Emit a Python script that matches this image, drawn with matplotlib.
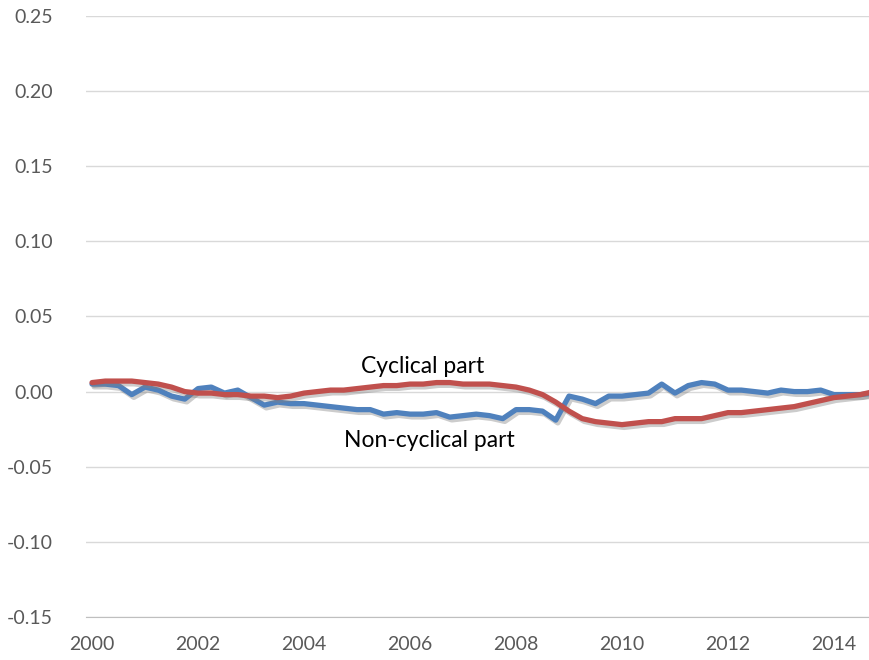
import numpy as np
import matplotlib
matplotlib.use("Agg")
import matplotlib.pyplot as plt
import matplotlib.patheffects as pe

# quarterly data, 2000Q1 .. 2014Q4
years = np.arange(2000, 2015, 0.25)

non_cyclical = [0.005, 0.005, 0.004, -0.002, 0.003, 0.001, -0.003, -0.005,
                0.002, 0.003, -0.001, 0.001, -0.004, -0.009, -0.007, -0.008,
                -0.008, -0.009, -0.010, -0.011, -0.012, -0.012, -0.015, -0.014,
                -0.015, -0.015, -0.014, -0.017, -0.016, -0.015, -0.016, -0.018,
                -0.012, -0.012, -0.013, -0.019, -0.003, -0.005, -0.008, -0.003,
                -0.003, -0.002, -0.001, 0.005, -0.001, 0.004, 0.006, 0.005,
                0.001, 0.001, 0.000, -0.001, 0.001, 0.000, 0.000, 0.001,
                -0.002, -0.002, -0.002, -0.001]

cyclical = [0.006, 0.007, 0.007, 0.007, 0.006, 0.005, 0.003, 0.000,
            -0.001, -0.001, -0.002, -0.002, -0.003, -0.003, -0.004, -0.003,
            -0.001, 0.000, 0.001, 0.001, 0.002, 0.003, 0.004, 0.004,
            0.005, 0.005, 0.006, 0.006, 0.005, 0.005, 0.005, 0.004,
            0.003, 0.001, -0.002, -0.007, -0.013, -0.018, -0.020, -0.021,
            -0.022, -0.021, -0.020, -0.020, -0.018, -0.018, -0.018, -0.016,
            -0.014, -0.014, -0.013, -0.012, -0.011, -0.010, -0.008, -0.006,
            -0.004, -0.003, -0.002, 0.000]

yticks = [-0.15, -0.10, -0.05, 0.00, 0.05, 0.10, 0.15, 0.20, 0.25]
xticks = [2000, 2002, 2004, 2006, 2008, 2010, 2012, 2014]

plt.rcParams['font.family'] = ['Lato', 'DejaVu Sans']

fig = plt.figure(figsize=(8.7, 6.6), dpi=100)
ax = fig.add_axes([0.0989, 0.0652, 0.9011, 0.9106])

shadow = [pe.SimpleLineShadow(offset=(1.5, -2), shadow_color='gray', alpha=0.4), pe.Normal()]
ax.plot(years, non_cyclical, color='#4F81BD', lw=3.8, solid_capstyle='round',
        path_effects=shadow, zorder=3)
ax.plot(years, cyclical, color='#C0504D', lw=3.8, solid_capstyle='round',
        path_effects=shadow, zorder=4)

ax.text(2006.23, 0.0167, "Cyclical part", fontsize=16.5, ha='center', va='center', color='black')
ax.text(2006.36, -0.0327, "Non-cyclical part", fontsize=16.5, ha='center', va='center', color='black')

ax.set_ylim(-0.15, 0.25)
ax.set_xlim(1999.887, 2014.68)
ax.set_yticks(yticks)
ax.set_yticklabels([f"{v:.2f}" for v in yticks])
ax.set_xticks(xticks)
ax.set_xticklabels([str(x) for x in xticks])
ax.tick_params(axis='both', length=0, labelsize=14, labelcolor='#595959')
ax.tick_params(axis='y', pad=24)
ax.tick_params(axis='x', pad=14)

ax.grid(axis='y', color='#D9D9D9', lw=1)
ax.set_axisbelow(True)
for s in ['top', 'right', 'left']:
    ax.spines[s].set_visible(False)
ax.spines['bottom'].set_color('#BFBFBF')

fig.savefig("out.png", dpi=100)
